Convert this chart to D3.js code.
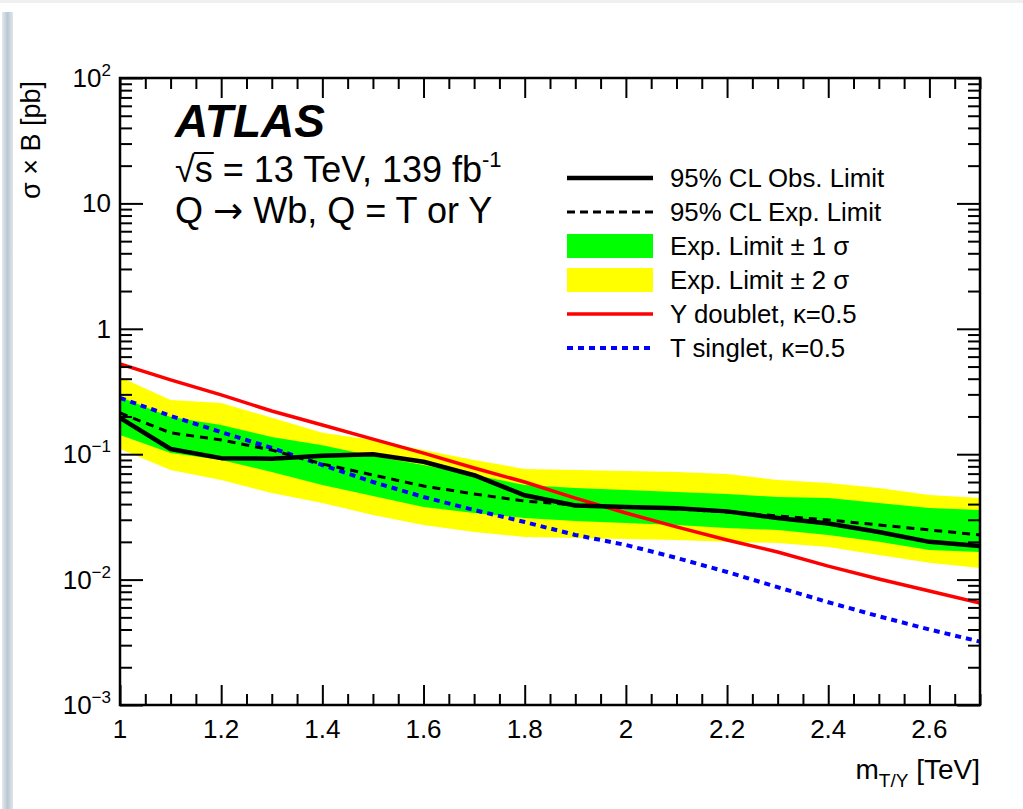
<!DOCTYPE html>
<html>
<head>
<meta charset="utf-8">
<script src="https://cdn.jsdelivr.net/npm/d3@7"></script>
<style>
  html, body { margin: 0; padding: 0; background: #fff; }
  svg { display: block; }
  text { font-family: "Liberation Sans", Arial, Helvetica, sans-serif; fill: #000; }
</style>
</head>
<body>
<svg id="chart" width="1023" height="809"></svg>
<script>
// Vector-like quark mass points [TeV]
const mass = [1.0, 1.1, 1.2, 1.3, 1.4, 1.5, 1.6, 1.7, 1.8, 1.9, 2.0, 2.1, 2.2, 2.3, 2.4, 2.5, 2.6, 2.7];

// 95% CL limits on sigma x B [pb]
const obsLimit = [0.195, 0.110, 0.093, 0.092, 0.097, 0.100, 0.087, 0.068, 0.047, 0.039, 0.038, 0.037, 0.035, 0.031, 0.028, 0.024, 0.020, 0.0185];
const expLimit = [0.213, 0.148, 0.130, 0.108, 0.0835, 0.0683, 0.0557, 0.0482, 0.0423, 0.0394, 0.0379, 0.0366, 0.0346, 0.0322, 0.0299, 0.0273, 0.0249, 0.0227];

// Expected-limit bands
const exp1Up   = [0.286, 0.198, 0.171, 0.137, 0.118, 0.0967, 0.082, 0.0683, 0.0568, 0.0538, 0.0518, 0.0500, 0.0482, 0.0456, 0.0447, 0.0408, 0.0372, 0.0359];
const exp1Down = [0.142, 0.102, 0.090, 0.072, 0.0568, 0.0464, 0.0379, 0.034, 0.031, 0.0293, 0.0283, 0.0273, 0.0258, 0.0249, 0.0227, 0.0200, 0.0172, 0.0166];
const exp2Up   = [0.413, 0.270, 0.256, 0.195, 0.148, 0.130, 0.108, 0.090, 0.0762, 0.0748, 0.0735, 0.0721, 0.0695, 0.0623, 0.0589, 0.0538, 0.0473, 0.0447];
const exp2Down = [0.110, 0.0748, 0.0623, 0.0491, 0.0408, 0.0328, 0.0273, 0.024, 0.0219, 0.0215, 0.0211, 0.0207, 0.0200, 0.0196, 0.0182, 0.0157, 0.0136, 0.0124];

// Theory cross sections
const yDoublet = [0.524, 0.391, 0.297, 0.221, 0.171, 0.132, 0.102, 0.0776, 0.060, 0.0447, 0.034, 0.0263, 0.0207, 0.0166, 0.0128, 0.0101, 0.0081, 0.0065];
const tSinglet = [0.281, 0.202, 0.150, 0.112, 0.082, 0.060, 0.0456, 0.0359, 0.0288, 0.0227, 0.0189, 0.0149, 0.0115, 0.0087, 0.0066, 0.0051, 0.0040, 0.0032];

// Axis ticks
const xTickLabels = ["1", "1.2", "1.4", "1.6", "1.8", "2", "2.2", "2.4", "2.6"];
const yTickExponents = [-3, -2, -1, 0, 1, 2];

const legendLabels = [
  "95% CL Obs. Limit",
  "95% CL Exp. Limit",
  "Exp. Limit \u00B1 1 \u03C3",
  "Exp. Limit \u00B1 2 \u03C3",
  "Y doublet, \u03BA=0.5",
  "T singlet, \u03BA=0.5"
];

const svg = d3.select("#chart");

// window edge decoration
const defs = svg.append("defs");
const grad = defs.append("linearGradient").attr("id", "edge").attr("x1", 0).attr("x2", 1);
grad.append("stop").attr("offset", 0).attr("stop-color", "#e4eaee");
grad.append("stop").attr("offset", 0.5).attr("stop-color", "#b9c8d2");
grad.append("stop").attr("offset", 1).attr("stop-color", "#dfe6ea");
svg.append("rect").attr("x", 0).attr("y", 0).attr("width", 1023).attr("height", 3).attr("fill", "#efefef");
svg.append("rect").attr("x", 2).attr("y", 12).attr("width", 11).attr("height", 797).attr("fill", "url(#edge)");

const plot = { left: 120, right: 980, top: 78, bottom: 705 };

const x = d3.scaleLinear().domain([1.0, 2.7]).range([plot.left, plot.right]);
const y = d3.scaleLog().domain([1e-3, 1e2]).range([plot.bottom, plot.top]);

defs.append("clipPath").attr("id", "clip")
  .append("rect").attr("x", plot.left).attr("y", plot.top)
  .attr("width", plot.right - plot.left).attr("height", plot.bottom - plot.top);

const g = svg.append("g").attr("clip-path", "url(#clip)");

const band = (lo, hi) => d3.area()
  .x((d, i) => x(mass[i]))
  .y0((d, i) => y(lo[i]))
  .y1((d, i) => y(hi[i]));

g.append("path").datum(mass).attr("d", band(exp2Down, exp2Up)).attr("fill", "#ffff00");
g.append("path").datum(mass).attr("d", band(exp1Down, exp1Up)).attr("fill", "#00ff00");

const line = vals => d3.line().x((d, i) => x(mass[i])).y((d, i) => y(vals[i]));

g.append("path").datum(mass).attr("d", line(tSinglet))
  .attr("fill", "none").attr("stroke", "#0000ff").attr("stroke-width", 4).attr("stroke-dasharray", "6,5");
g.append("path").datum(mass).attr("d", line(yDoublet))
  .attr("fill", "none").attr("stroke", "#ff0000").attr("stroke-width", 3.5);
g.append("path").datum(mass).attr("d", line(expLimit))
  .attr("fill", "none").attr("stroke", "#000").attr("stroke-width", 3).attr("stroke-dasharray", "8,6");
g.append("path").datum(mass).attr("d", line(obsLimit))
  .attr("fill", "none").attr("stroke", "#000").attr("stroke-width", 4.5).attr("stroke-linejoin", "round");

// ticks (drawn inward on all four sides)
const xMajor = d3.range(1.0, 2.7001, 0.2).map(v => +v.toFixed(2));
const xMinor = d3.range(1.0, 2.7001, 0.05).map(v => +v.toFixed(2)).filter(v => !xMajor.includes(v));
const yMajor = yTickExponents.map(e => Math.pow(10, e));
const yMinor = [];
for (let e = -3; e < 2; e++) for (let k = 2; k <= 9; k++) yMinor.push(k * Math.pow(10, e));

const axes = svg.append("g");
const styleAxis = sel => { sel.select(".domain").remove(); sel.selectAll("line").attr("stroke", "#000").attr("stroke-width", 2); };

axes.append("g").attr("transform", `translate(0,${plot.bottom})`)
  .call(d3.axisBottom(x).tickValues(xMajor).tickSize(-20).tickFormat("")).call(styleAxis);
axes.append("g").attr("transform", `translate(0,${plot.bottom})`)
  .call(d3.axisBottom(x).tickValues(xMinor).tickSize(-11).tickFormat("")).call(styleAxis);
axes.append("g").attr("transform", `translate(0,${plot.top})`)
  .call(d3.axisTop(x).tickValues(xMajor).tickSize(-20).tickFormat("")).call(styleAxis);
axes.append("g").attr("transform", `translate(0,${plot.top})`)
  .call(d3.axisTop(x).tickValues(xMinor).tickSize(-11).tickFormat("")).call(styleAxis);

axes.append("g").attr("transform", `translate(${plot.left},0)`)
  .call(d3.axisLeft(y).tickValues(yMajor).tickSize(-23).tickFormat("")).call(styleAxis);
axes.append("g").attr("transform", `translate(${plot.left},0)`)
  .call(d3.axisLeft(y).tickValues(yMinor).tickSize(-12).tickFormat("")).call(styleAxis);
axes.append("g").attr("transform", `translate(${plot.right},0)`)
  .call(d3.axisRight(y).tickValues(yMajor).tickSize(-23).tickFormat("")).call(styleAxis);
axes.append("g").attr("transform", `translate(${plot.right},0)`)
  .call(d3.axisRight(y).tickValues(yMinor).tickSize(-12).tickFormat("")).call(styleAxis);

// frame
svg.append("rect").attr("x", plot.left).attr("y", plot.top)
  .attr("width", plot.right - plot.left).attr("height", plot.bottom - plot.top)
  .attr("fill", "none").attr("stroke", "#000").attr("stroke-width", 2.5);

// x tick labels
svg.append("g").selectAll("text").data(xTickLabels).join("text")
  .attr("x", d => x(+d)).attr("y", plot.bottom + 33)
  .attr("text-anchor", "middle").attr("font-size", 26).text(d => d);

// y tick labels
const yl = svg.append("g").selectAll("text").data(yTickExponents).join("text")
  .attr("x", 111).attr("y", e => y(Math.pow(10, e)) + 9)
  .attr("text-anchor", "end").attr("font-size", 26);
yl.each(function (e) {
  const t = d3.select(this);
  if (e === 0) t.text("1");
  else if (e === 1) t.text("10");
  else {
    t.append("tspan").text("10");
    t.append("tspan").attr("font-size", 17).attr("dy", -11).text(e < 0 ? "\u2212" + (-e) : String(e));
  }
});

// axis titles
const xt = svg.append("text").attr("x", plot.right).attr("y", 779).attr("text-anchor", "end").attr("font-size", 28);
xt.append("tspan").text("m");
xt.append("tspan").attr("font-size", 19).attr("dy", 8).text("T/Y");
xt.append("tspan").attr("dy", -8).text(" [TeV]");

svg.append("text").attr("transform", `translate(40,${plot.top + 3}) rotate(-90)`)
  .attr("text-anchor", "end").attr("font-size", 27).text("\u03C3 \u00D7 B [pb]");

// labels
svg.append("text").attr("x", 175).attr("y", 137).attr("font-size", 46)
  .attr("font-weight", "bold").attr("font-style", "italic").text("ATLAS");

const lumi = svg.append("text").attr("x", 175).attr("y", 182).attr("font-size", 36);
lumi.append("tspan").text("\u221As = 13 TeV, 139 fb");
lumi.append("tspan").attr("font-size", 22).attr("dy", -15).text("-1");
{
  const node = lumi.node();
  const s0 = node.getStartPositionOfChar(1), s1 = node.getEndPositionOfChar(1);
  svg.append("line").attr("x1", s0.x - 1).attr("x2", s1.x + 1)
    .attr("y1", 182 - 29).attr("y2", 182 - 29).attr("stroke", "#000").attr("stroke-width", 2);
}

const decay = svg.append("text").attr("x", 175).attr("y", 223).attr("font-size", 36);
decay.append("tspan").text("Q ");
decay.append("tspan").attr("font-family", "DejaVu Sans").text("\u2192");
decay.append("tspan").text(" Wb, Q = T or Y");

// legend
const legX0 = 567, legX1 = 653, legTextX = 670;
const rowY = [178, 212, 246, 280, 314, 348];
const leg = svg.append("g");
leg.append("line").attr("x1", legX0).attr("x2", legX1).attr("y1", rowY[0]).attr("y2", rowY[0])
  .attr("stroke", "#000").attr("stroke-width", 4.5);
leg.append("line").attr("x1", legX0).attr("x2", legX1).attr("y1", rowY[1]).attr("y2", rowY[1])
  .attr("stroke", "#000").attr("stroke-width", 3).attr("stroke-dasharray", "8,5");
leg.append("rect").attr("x", legX0).attr("y", rowY[2] - 12).attr("width", legX1 - legX0).attr("height", 24).attr("fill", "#00ff00");
leg.append("rect").attr("x", legX0).attr("y", rowY[3] - 12).attr("width", legX1 - legX0).attr("height", 24).attr("fill", "#ffff00");
leg.append("line").attr("x1", legX0).attr("x2", legX1).attr("y1", rowY[4]).attr("y2", rowY[4])
  .attr("stroke", "#ff0000").attr("stroke-width", 3.5);
leg.append("line").attr("x1", legX0).attr("x2", legX1).attr("y1", rowY[5]).attr("y2", rowY[5])
  .attr("stroke", "#0000ff").attr("stroke-width", 4).attr("stroke-dasharray", "6,5");
leg.selectAll("text").data(legendLabels).join("text")
  .attr("x", legTextX).attr("y", (d, i) => rowY[i] + 9).attr("font-size", 25.8).text(d => d);
</script>
</body>
</html>
